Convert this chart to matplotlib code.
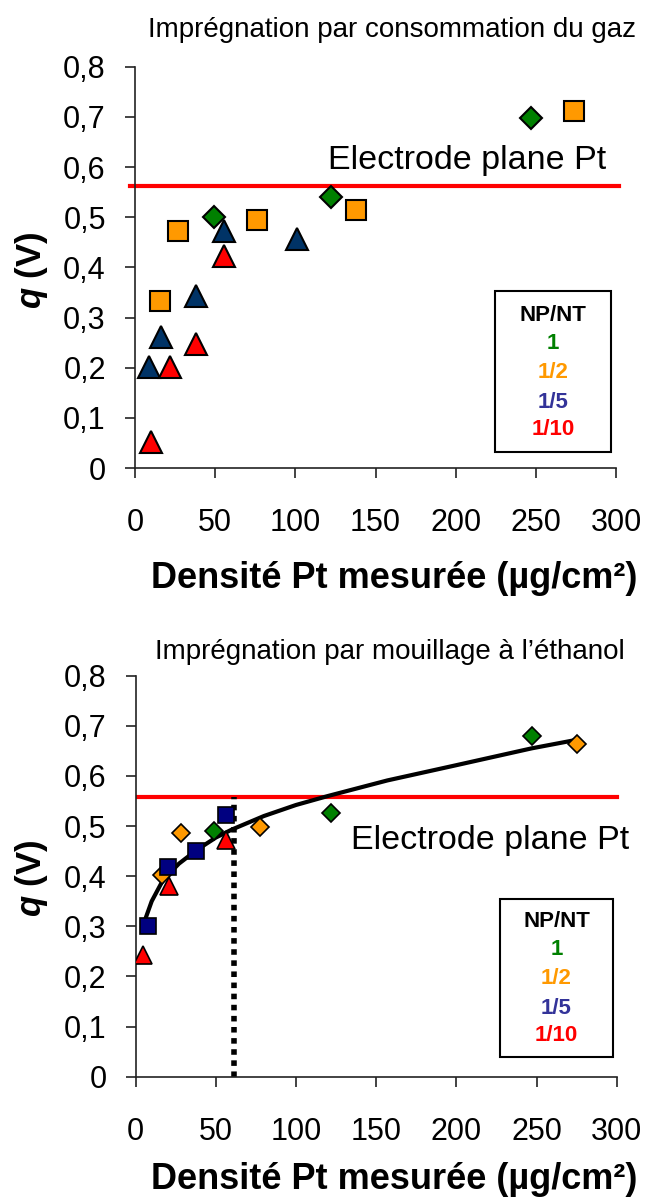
import numpy as np
import matplotlib
matplotlib.use("Agg")
import matplotlib.pyplot as plt
from matplotlib.patches import Rectangle

plt.rcParams['font.family'] = ['Liberation Sans', 'DejaVu Sans']
plt.rcParams['mathtext.fontset'] = 'custom'
plt.rcParams['mathtext.bfit'] = 'Liberation Sans:italic:bold'
plt.rcParams['mathtext.rm'] = 'Liberation Sans'

# --- top chart: impregnation par consommation du gaz ---
gaz_x_1 = [49, 122, 247]
gaz_y_1 = [0.50, 0.54, 0.697]
gaz_x_2 = [15.6, 27, 76, 138, 274]
gaz_y_2 = [0.333, 0.472, 0.494, 0.515, 0.712]
gaz_x_5 = [8.9, 16.2, 37.8, 55.5, 100.8]
gaz_y_5 = [0.201, 0.262, 0.342, 0.473, 0.456]
gaz_x_10 = [10, 21.6, 37.8, 55.5]
gaz_y_10 = [0.052, 0.201, 0.248, 0.423]
gaz_plane = 0.562

# --- bottom chart: impregnation par mouillage a l'ethanol ---
eth_x_1 = [49, 122, 247]
eth_y_1 = [0.490, 0.527, 0.679]
eth_x_2 = [16.2, 28, 77.3, 275.4]
eth_y_2 = [0.403, 0.486, 0.498, 0.664]
eth_x_5 = [7.7, 20, 37.4, 56.1]
eth_y_5 = [0.301, 0.419, 0.451, 0.522]
eth_x_10 = [4.4, 20.6, 56.3]
eth_y_10 = [0.242, 0.380, 0.473]
eth_plane = 0.558
eth_marker_x = 61.3

# trend curve
trend_x = [4.4, 10, 17, 27, 38, 50, 60, 80, 100, 120, 157, 198, 247, 275]
trend_y = [0.300, 0.350, 0.392, 0.425, 0.452, 0.477, 0.493, 0.520, 0.542,
           0.560, 0.591, 0.620, 0.655, 0.672]

x_ticks = [0, 50, 100, 150, 200, 250, 300]
y_ticks = [0, 0.1, 0.2, 0.3, 0.4, 0.5, 0.6, 0.7, 0.8]
y_labels = ["0", "0,1", "0,2", "0,3", "0,4", "0,5", "0,6", "0,7", "0,8"]
legend_labels = ["1", "1/2", "1/5", "1/10"]
legend_colors = ["#008000", "#FF9900", "#333399", "#FF0000"]

GREEN = "#008000"
ORANGE = "#FF9900"
RED = "#FF0000"

fig = plt.figure(figsize=(6.7, 11.98), dpi=100)
ax1 = fig.add_axes([0.2015, 0.6093, 0.7179, 0.3350])
ax2 = fig.add_axes([0.2025, 0.1013, 0.7179, 0.3347])


def style_axes(ax):
    ax.set_xlim(0, 300)
    ax.set_ylim(0, 0.8)
    ax.set_xticks(x_ticks)
    ax.set_xticklabels([str(t) for t in x_ticks])
    ax.set_yticks(y_ticks)
    ax.set_yticklabels(y_labels)
    for s in ["top", "right"]:
        ax.spines[s].set_visible(False)
    for s in ["left", "bottom"]:
        ax.spines[s].set_linewidth(1.2)
        ax.spines[s].set_color("#222222")
    ax.tick_params(direction="out", length=7, width=1.2, color="#222222",
                   labelsize=22)
    ax.tick_params(axis="y", pad=14)
    ax.tick_params(axis="x", pad=22)


def legend_box(ax, x0, y0, x1, y1, xc, ys):
    ax.add_patch(Rectangle((x0, y0), x1 - x0, y1 - y0, transform=ax.transAxes,
                           fill=False, edgecolor="black", linewidth=1.5,
                           clip_on=False, zorder=5))
    ax.text(xc, ys[0], "NP/NT", transform=ax.transAxes, ha="center",
            va="center", fontsize=16, fontweight="bold", color="black")
    for lab, col, yy in zip(legend_labels, legend_colors, ys[1:]):
        ax.text(xc, yy, lab, transform=ax.transAxes, ha="center", va="center",
                fontsize=16, fontweight="bold", color=col)


# top chart
style_axes(ax1)
ax1.plot([-3, 302], [gaz_plane, gaz_plane], color=RED, lw=3, clip_on=False,
         zorder=1)
ax1.text(207, 0.614, "Electrode plane Pt", ha="center", va="center",
         fontsize=24.5)
ax1.plot(gaz_x_1, gaz_y_1, "D", ms=11.5, mfc=GREEN, mec="black", mew=1.5,
         ls="none", zorder=3)
ax1.plot(gaz_x_2, gaz_y_2, "s", ms=14, mfc=ORANGE, mec="black", mew=1.5,
         ls="none", zorder=3)
ax1.plot(gaz_x_5, gaz_y_5, "^", ms=16, mfc="#003366", mec="black", mew=1.5,
         ls="none", zorder=3)
ax1.plot(gaz_x_10, gaz_y_10, "^", ms=16, mfc=RED, mec="black", mew=1.5,
         ls="none", zorder=3)
legend_box(ax1, 0.748, 0.040, 0.990, 0.441, 0.869,
           [0.381, 0.311, 0.237, 0.164, 0.095])

# bottom chart
style_axes(ax2)
ax2.plot([1.4, 300], [eth_plane, eth_plane], color=RED, lw=3, clip_on=False,
         zorder=1)
ax2.plot([eth_marker_x, eth_marker_x], [0, eth_plane], color="black", lw=4,
         ls=(0, (1, 1)), zorder=2)
ax2.plot(trend_x, trend_y, color="black", lw=3, zorder=2,
         solid_joinstyle="round", solid_capstyle="butt")
ax2.text(221, 0.472, "Electrode plane Pt", ha="center", va="center",
         fontsize=24.5)
ax2.plot(eth_x_1, eth_y_1, "D", ms=9.5, mfc=GREEN, mec="black", mew=1.2,
         ls="none", zorder=3)
ax2.plot(eth_x_2, eth_y_2, "D", ms=9.5, mfc=ORANGE, mec="black", mew=1.2,
         ls="none", zorder=3)
ax2.plot(eth_x_5, eth_y_5, "s", ms=12, mfc="#000080", mec="black", mew=1.2,
         ls="none", zorder=3)
ax2.plot(eth_x_10, eth_y_10, "^", ms=13, mfc=RED, mec="black", mew=1.2,
         ls="none", zorder=3)
legend_box(ax2, 0.757, 0.049, 0.992, 0.443, 0.875,
           [0.387, 0.316, 0.246, 0.171, 0.102])

# titles and axis labels
fig.text(148 / 670, 1 - 37.3 / 1198, "Imprégnation par consommation du gaz",
         ha="left", va="baseline", fontsize=20)
fig.text(155 / 670, 1 - 659 / 1198, "Imprégnation par mouillage à l\u2019éthanol",
         ha="left", va="baseline", fontsize=20)
xlab = "Densité Pt mesurée (µg/cm²)"
fig.text(394 / 670, 1 - 588 / 1198, xlab, ha="center", va="baseline",
         fontsize=26, fontweight="bold")
fig.text(394 / 670, 1 - 1189 / 1198, xlab, ha="center", va="baseline",
         fontsize=26, fontweight="bold")
ylab = r"$\mathbfit{q}$ (V)"
fig.text(32 / 670, 1 - 270 / 1198, ylab, ha="center", va="center",
         rotation=90, fontsize=25, fontweight="bold")
fig.text(32 / 670, 1 - 878 / 1198, ylab, ha="center", va="center",
         rotation=90, fontsize=25, fontweight="bold")

fig.savefig("out.png", dpi=100)
